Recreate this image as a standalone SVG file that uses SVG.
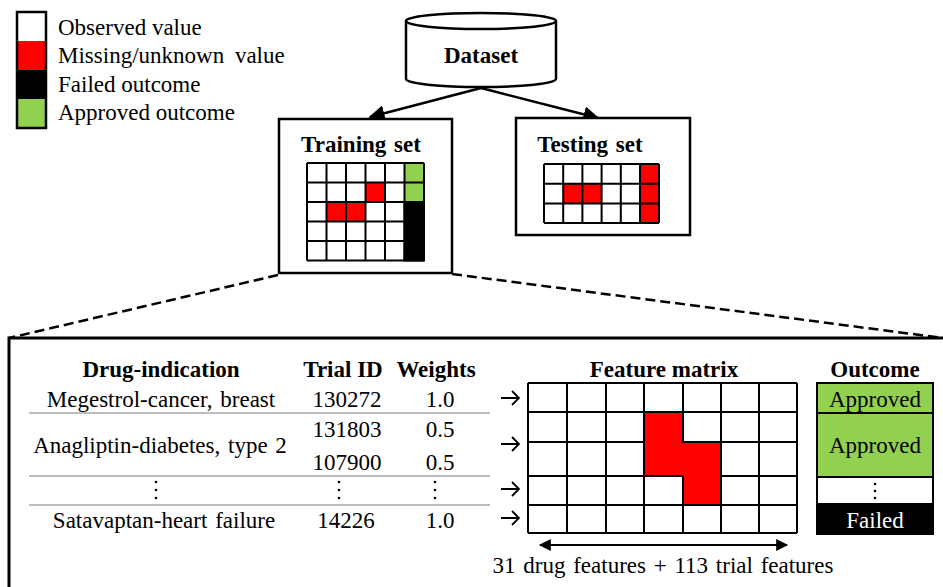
<svg xmlns="http://www.w3.org/2000/svg" width="943" height="587" viewBox="0 0 943 587" font-family="'Liberation Serif', 'Times New Roman', Times, 'DejaVu Serif', serif">
<style>
text{font-family:'Liberation Serif','Times New Roman',Times,'DejaVu Serif',serif;font-size:23px;fill:#000}
.b{font-weight:bold}
.m{text-anchor:middle}
.box{fill:#fff;stroke:#000;stroke-width:2.5}
.grid{fill:none;stroke:#000;stroke-width:2}
.red{fill:#ff0000}
.grn{fill:#92d050}
.blk{fill:#000}
.gray{stroke:#bdbdbd;stroke-width:2.2}
.dash{fill:none;stroke:#000;stroke-width:2.5;stroke-dasharray:10 5}
.arr{fill:none;stroke:#000;stroke-width:2.5}
.sarr{fill:none;stroke:#000;stroke-width:1.8}
.dots{fill:#000}
</style>
<defs>
<marker id="ah" viewBox="0 0 10 10" refX="9" refY="5" markerWidth="6.5" markerHeight="6.5" orient="auto" markerUnits="strokeWidth">
<path d="M0,0 L10,5 L0,10 z" fill="#000"/>
</marker>
<marker id="ah2" viewBox="0 0 10 10" refX="9" refY="5" markerWidth="7" markerHeight="6" orient="auto-start-reverse" markerUnits="strokeWidth">
<path d="M0,0 L10,5 L0,10 z" fill="#000"/>
</marker>
</defs>

<g id="legend">
<rect x="17" y="12" width="29" height="29" fill="#fff"/>
<rect x="17" y="41" width="29" height="29" class="red"/>
<rect x="17" y="70" width="29" height="29" class="blk"/>
<rect x="17" y="99" width="29" height="29" class="grn"/>
<rect x="17" y="12" width="29" height="116" fill="none" stroke="#000" stroke-width="2.5"/>
<text x="58" y="35">Observed value</text>
<text x="58" y="63" word-spacing="5">Missing/unknown value</text>
<text x="58" y="92">Failed outcome</text>
<text x="58" y="120">Approved outcome</text>
</g>

<g id="connectors">
<line x1="481" y1="88" x2="370" y2="117" class="arr" marker-end="url(#ah)"/>
<line x1="481" y1="88" x2="598" y2="118" class="arr" marker-end="url(#ah)"/>
<line x1="278" y1="275" x2="9" y2="338" class="dash"/>
<line x1="452" y1="274" x2="943" y2="338" class="dash"/>
<path d="M501,398 H519 M512,391 L519,398 L512,405" class="sarr"/>
<path d="M501,444 H519 M512,437 L519,444 L512,451" class="sarr"/>
<path d="M501,489 H519 M512,482 L519,489 L512,496" class="sarr"/>
<path d="M501,518 H519 M512,511 L519,518 L512,525" class="sarr"/>
</g>

<g id="dataset">
<path d="M406,21 V79 A75,8 0 0 0 556,79 V21" class="box"/>
<ellipse cx="481" cy="21" rx="75" ry="8" class="box"/>
<text x="481" y="63" class="b m">Dataset</text>
</g>

<g id="training-set">
<rect x="279" y="119" width="173" height="154" class="box"/>
<text x="361" y="152" class="b m" word-spacing="2">Training set</text>
<rect x="307" y="163" width="117" height="97.5" fill="#fff"/>
<rect x="404.5" y="163" width="19.5" height="19.5" class="grn"/>
<rect x="404.5" y="182.5" width="19.5" height="19.5" class="grn"/>
<rect x="365.5" y="182.5" width="19.5" height="19.5" class="red"/>
<rect x="326.5" y="202" width="39" height="19.5" class="red"/>
<path d="M307,163 H424 M307,182.5 H424 M307,202 H424 M307,221.5 H424 M307,241 H424 M307,260.5 H424 M307,163 V260.5 M326.5,163 V260.5 M346,163 V260.5 M365.5,163 V260.5 M385,163 V260.5 M404.5,163 V260.5 M424,163 V260.5" class="grid"/>
<rect x="404.5" y="202" width="19.5" height="58.5" class="blk" stroke="#000" stroke-width="2"/>
</g>

<g id="testing-set">
<rect x="516" y="118" width="174" height="117" class="box"/>
<text x="590" y="152" class="b m" word-spacing="2">Testing set</text>
<rect x="544" y="164" width="115" height="59" fill="#fff"/>
<rect x="639.8" y="164" width="19.2" height="59" class="red"/>
<rect x="563.2" y="183.7" width="38.4" height="19.7" class="red"/>
<path d="M544,164 H659 M544,183.7 H659 M544,203.4 H659 M544,223 H659 M544,164 V223 M563.2,164 V223 M582.4,164 V223 M601.6,164 V223 M620.8,164 V223 M640,164 V223 M659,164 V223" class="grid"/>
</g>

<g id="detail">
<rect x="9" y="338" width="950" height="300" fill="none" stroke="#000" stroke-width="3"/>
</g>

<g id="table">
<text x="161" y="377" class="b m">Drug-indication</text>
<text x="343" y="377" class="b m">Trial ID</text>
<text x="436" y="377" class="b m">Weights</text>
<text x="161" y="407" class="m" word-spacing="2">Megestrol-cancer, breast</text>
<text x="347" y="407" class="m">130272</text>
<text x="440" y="407" class="m">1.0</text>
<line x1="29" y1="413" x2="490" y2="413" class="gray"/>
<text x="160" y="453" class="m" word-spacing="2">Anagliptin-diabetes, type 2</text>
<text x="347" y="437" class="m">131803</text>
<text x="440" y="437" class="m">0.5</text>
<text x="347" y="470" class="m">107900</text>
<text x="440" y="470" class="m">0.5</text>
<line x1="29" y1="476" x2="490" y2="476" class="gray"/>
<g class="dots">
<circle cx="156" cy="482" r="1.3"/><circle cx="156" cy="490" r="1.3"/><circle cx="156" cy="498" r="1.3"/>
<circle cx="339" cy="482" r="1.3"/><circle cx="339" cy="490" r="1.3"/><circle cx="339" cy="498" r="1.3"/>
<circle cx="435" cy="482" r="1.3"/><circle cx="435" cy="490" r="1.3"/><circle cx="435" cy="498" r="1.3"/>
</g>
<line x1="29" y1="505" x2="490" y2="505" class="gray"/>
<text x="164" y="528" class="m" word-spacing="2">Satavaptan-heart failure</text>
<text x="346" y="528" class="m">14226</text>
<text x="440" y="528" class="m">1.0</text>
</g>

<g id="feature-matrix">
<text x="664" y="377" class="b m">Feature matrix</text>
<rect x="528" y="383" width="269" height="150" fill="#fff"/>
<path d="M644,412 H683 V442 H721 V505 H683 V476 H644 Z" class="red"/>
<path d="M528,383 H797 M528,412 H797 M528,442 H644 M721,442 H797 M528,476 H644 M721,476 H797 M528,505 H797 M528,533 H797 M528,383 V533 M567,383 V533 M606,383 V533 M644,383 V533 M683,383 V442 M683,476 V533 M721,383 V533 M759,383 V533 M797,383 V533" class="grid"/>
<path d="M644,412 H683 V442 H721 V505 H683 V476 H644 Z" class="grid"/>
<line x1="540" y1="545" x2="787" y2="545" stroke="#000" stroke-width="2" marker-start="url(#ah2)" marker-end="url(#ah2)"/>
<text x="663" y="573" class="m" word-spacing="2">31 drug features + 113 trial features</text>
</g>

<g id="outcome">
<text x="875" y="377" class="b m">Outcome</text>
<rect x="817" y="383" width="116" height="30" class="grn"/>
<rect x="817" y="413" width="116" height="64" class="grn"/>
<rect x="817" y="477" width="116" height="27" fill="#fff"/>
<rect x="817" y="504" width="116" height="30" class="blk"/>
<path d="M817,383 H933 V534 H817 Z M817,413 H933 M817,477 H933 M817,504 H933" class="grid"/>
<text x="875" y="407" class="m">Approved</text>
<text x="875" y="453" class="m">Approved</text>
<g class="dots"><circle cx="875" cy="484" r="1.3"/><circle cx="875" cy="491" r="1.3"/><circle cx="875" cy="498" r="1.3"/></g>
<text x="875" y="528" class="m" style="fill:#fff">Failed</text>
</g>
</svg>
